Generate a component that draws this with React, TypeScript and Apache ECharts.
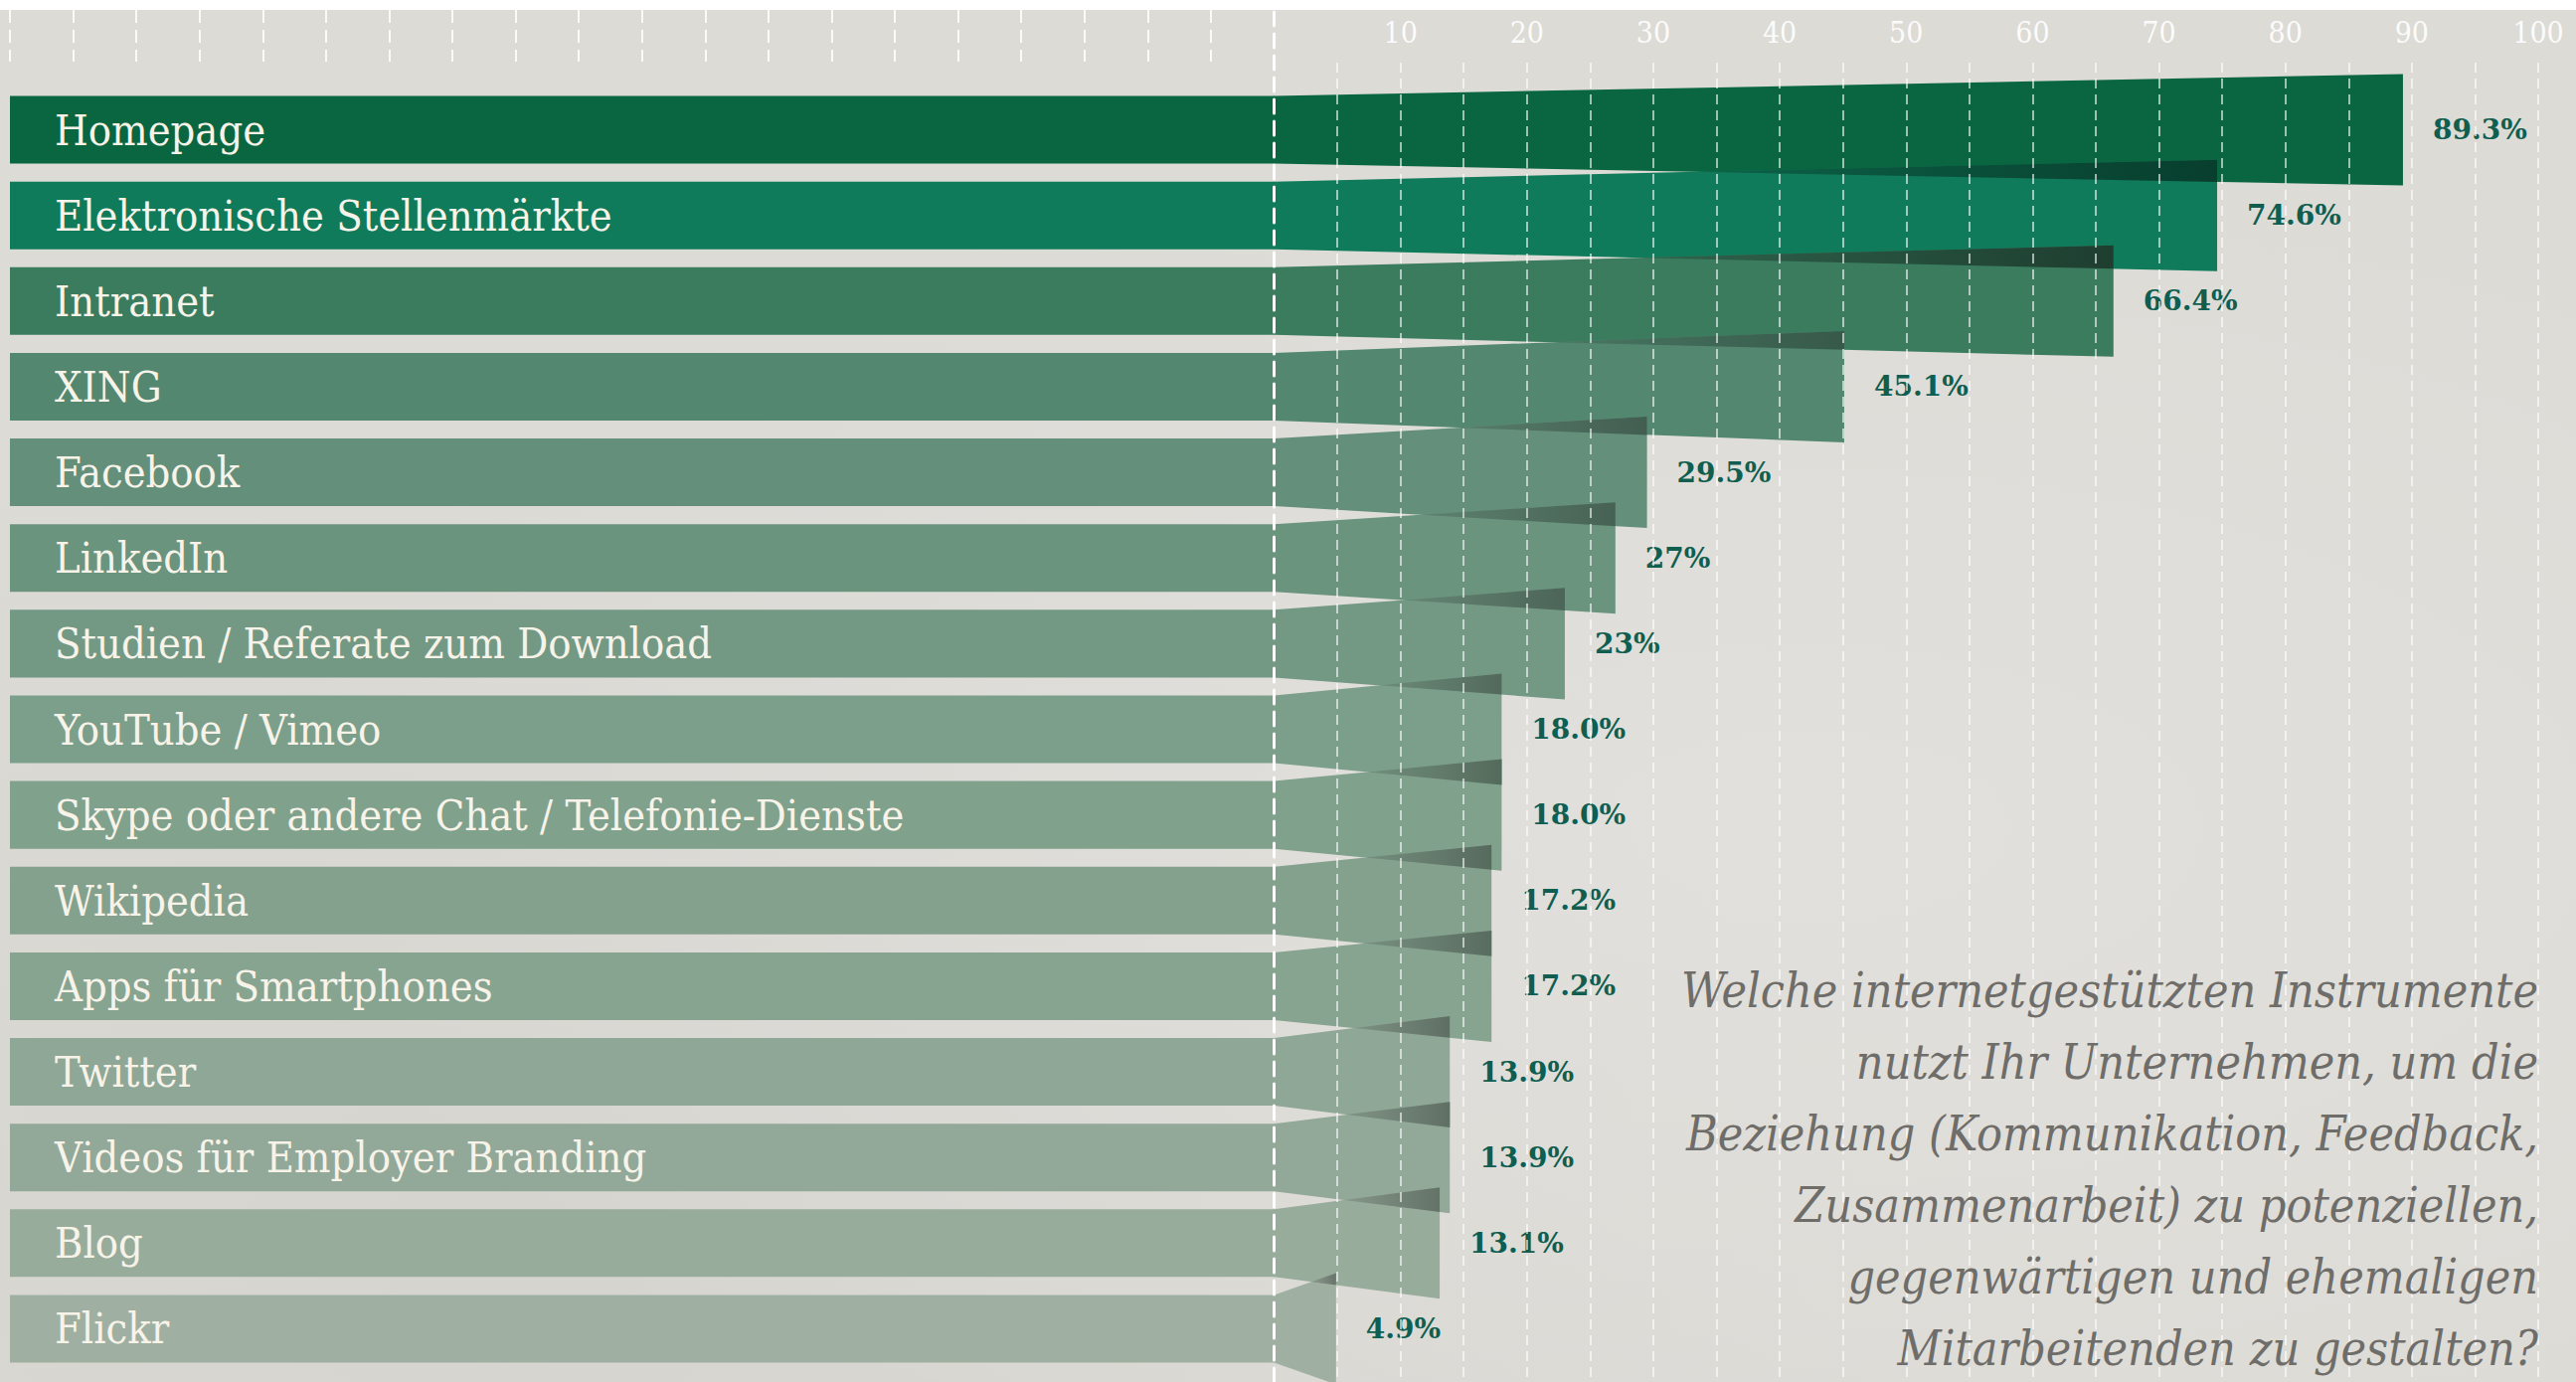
import React, { useEffect, useRef } from 'react';
import * as echarts from 'echarts';

// ---------- data ----------
const CATEGORIES = [
  'Homepage',
  'Elektronische Stellenmärkte',
  'Intranet',
  'XING',
  'Facebook',
  'LinkedIn',
  'Studien / Referate zum Download',
  'YouTube / Vimeo',
  'Skype oder andere Chat / Telefonie-Dienste',
  'Wikipedia',
  'Apps für Smartphones',
  'Twitter',
  'Videos für Employer Branding',
  'Blog',
  'Flickr',
];
const VALUES = [89.3, 74.6, 66.4, 45.1, 29.5, 27, 23, 18.0, 18.0, 17.2, 17.2, 13.9, 13.9, 13.1, 4.9];
const VALUE_LABELS = ['89.3%', '74.6%', '66.4%', '45.1%', '29.5%', '27%', '23%', '18.0%', '18.0%', '17.2%', '17.2%', '13.9%', '13.9%', '13.1%', '4.9%'];
const QUESTION_LINES = [
  'Welche internetgestützten Instrumente',
  'nutzt Ihr Unternehmen, um die',
  'Beziehung (Kommunikation, Feedback,',
  'Zusammenarbeit) zu potenziellen,',
  'gegenwärtigen und ehemaligen',
  'Mitarbeitenden zu gestalten?',
];

// ---------- styles / layout ----------
const BAR_COLORS = [
  '#0a6640', '#0f7b5a', '#3b7c5f', '#538770', '#648f7a', '#6b947f', '#739985',
  '#7c9f8b', '#80a18c', '#84a18e', '#87a491', '#8fa796', '#92a898', '#98ac9c', '#9fb0a2',
];
const W = 2591;
const H = 1390;
const GRID_LEFT = 10;
const GRID_RIGHT = 38;
const X0_PX = GRID_LEFT + (W - GRID_LEFT - GRID_RIGHT) / 2;
const BAR_START = -100;
const FLARE = 22;
const BAR_RATIO = 0.79;
const SERIF_COND = '"DejaVu Serif Condensed", "DejaVu Serif", serif';
const TITLE_TOP = 960;
const TITLE_LINE = 72;

function shade(hex: string, f: number): string {
  const n = parseInt(hex.slice(1), 16);
  const r = Math.round(((n >> 16) & 255) * f);
  const g = Math.round(((n >> 8) & 255) * f);
  const b = Math.round((n & 255) * f);
  return `rgb(${r},${g},${b})`;
}

export default function App() {
  const ref = useRef<HTMLDivElement>(null);

  useEffect(() => {
    if (!ref.current) return;
    const chart = echarts.init(ref.current, undefined, { renderer: 'svg' });

    const renderItem = (params: any, api: any) => {
      const i = params.dataIndex;
      const v = api.value(0) as number;
      const end = api.coord([v, i]);
      const zero = api.coord([0, i]);
      const start = api.coord([BAR_START, i]);
      const band = (api.size([0, 1]) as number[])[1];
      const h = band * BAR_RATIO;
      const yc = end[1];
      const yT = yc - h / 2;
      const yB = yc + h / 2;
      const xe = end[0];
      const x0 = zero[0];
      const xl = start[0];
      const L = Math.max(xe - x0, 1);
      const color = BAR_COLORS[i];
      const children: any[] = [
        { type: 'rect', shape: { x: xl, y: yT, width: x0 - xl + 0.5, height: h }, style: { fill: color } },
        {
          type: 'polygon',
          shape: { points: [[x0, yT], [xe, yT - FLARE], [xe, yB + FLARE], [x0, yB]] },
          style: { fill: color },
        },
      ];
      if (i > 0) {
        const pEnd = api.coord([VALUES[i - 1], i - 1]);
        const Lp = Math.max(pEnd[0] - x0, 1);
        const yBp = pEnd[1] + h / 2;
        const g = yT - yBp;
        const t = g / (FLARE * (1 / Lp + 1 / L));
        if (t < L) {
          const top = i < 3;
          children.push({
            type: 'polygon',
            shape: {
              points: [
                [x0 + t, yBp + (FLARE * t) / Lp],
                [xe, yT - FLARE],
                [xe, yBp + (FLARE * L) / Lp],
              ],
            },
            style: {
              fill: {
                type: 'linear', x: 0, y: 0, x2: 1, y2: 0,
                colorStops: [
                  { offset: 0, color: shade(color, top ? 0.8 : 0.88) },
                  { offset: 1, color: shade(color, top ? 0.5 : 0.66) },
                ],
              },
            },
          });
        }
      }
      children.push({
        type: 'text',
        style: {
          text: VALUE_LABELS[i],
          x: xe + 30,
          y: yc,
          align: 'left',
          verticalAlign: 'middle',
          fill: '#0f5e4f',
          fontSize: 28,
          fontWeight: 'bold',
          fontFamily: '"DejaVu Serif", serif',
        },
      });
      return { type: 'group', children };
    };

    const dashWhite = 'rgba(255,255,255,0.6)';

    chart.setOption({
      animation: false,
      grid: [
        { left: GRID_LEFT, right: GRID_RIGHT, top: 87.5, bottom: 10.5 },
        { left: X0_PX, right: GRID_RIGHT, top: 63, bottom: 0 },
        { left: GRID_LEFT, right: W - X0_PX, top: 10, height: 52 },
        { left: X0_PX, right: W - X0_PX - 1, top: 10, bottom: 0 },
      ],
      xAxis: [
        { gridIndex: 0, type: 'value', min: -100, max: 100, show: false },
        {
          gridIndex: 1, type: 'value', min: 0, max: 100, interval: 5, position: 'top', z: 5,
          axisLine: { show: false }, axisTick: { show: false },
          splitLine: { show: true, showMinLine: false, lineStyle: { color: dashWhite, width: 2, type: [10, 6] } },
          axisLabel: {
            formatter: (val: number) => (val > 0 && val % 10 === 0 ? String(val) : ''),
            color: 'rgba(255,255,255,0.92)', fontSize: 30, fontFamily: SERIF_COND,
            margin: 31, verticalAlign: 'middle',
          },
        },
        {
          gridIndex: 2, type: 'value', min: -100, max: 0, interval: 5,
          axisLine: { show: false }, axisTick: { show: false }, axisLabel: { show: false },
          splitLine: { show: true, showMaxLine: false, lineStyle: { color: 'rgba(255,255,255,0.85)', width: 2, type: [13, 7] } },
        },
        { gridIndex: 3, type: 'value', show: false },
      ],
      yAxis: [
        {
          gridIndex: 0, type: 'category', data: CATEGORIES, inverse: true, z: 6,
          axisLine: { show: false }, axisTick: { show: false }, splitLine: { show: false },
          axisLabel: { inside: true, margin: 45, color: '#f7f3e9', fontSize: 43, fontFamily: SERIF_COND },
        },
        { gridIndex: 1, type: 'value', show: false },
        { gridIndex: 2, type: 'value', show: false },
        {
          gridIndex: 3, type: 'value', z: 5,
          axisLine: { show: true, lineStyle: { color: 'rgba(255,255,255,0.95)', width: 3, type: [14, 8] } },
          axisTick: { show: false }, axisLabel: { show: false }, splitLine: { show: false },
        },
      ],
      graphic: QUESTION_LINES.map((line, k) => ({
        type: 'text',
        x: W - GRID_RIGHT,
        y: TITLE_TOP + TITLE_LINE * k + TITLE_LINE / 2,
        z: 10,
        style: {
          text: line,
          align: 'right',
          textAlign: 'right',
          verticalAlign: 'middle',
          textVerticalAlign: 'middle',
          fill: '#6e6d69',
          fontSize: 48,
          fontStyle: 'italic',
          fontFamily: SERIF_COND,
        },
      })),
      series: [
        {
          type: 'custom',
          xAxisIndex: 0,
          yAxisIndex: 0,
          renderItem,
          encode: { x: 0, y: 1 },
          data: VALUES.map((v, i) => [v, i]),
          z: 2,
        },
      ],
    });

    return () => chart.dispose();
  }, []);

  return (
    <div
      ref={ref}
      style={{
        position: 'absolute',
        left: 0,
        top: 0,
        width: W,
        height: H,
        background:
          'linear-gradient(to bottom, #ffffff 0px, #ffffff 10px, transparent 10px), radial-gradient(ellipse at 70% 60%, #e2e0dc 0%, rgba(226,224,220,0) 60%), radial-gradient(ellipse at 20% 90%, #d6d4cf 0%, rgba(214,212,207,0) 50%), #dddbd6',
      }}
    />
  );
}
